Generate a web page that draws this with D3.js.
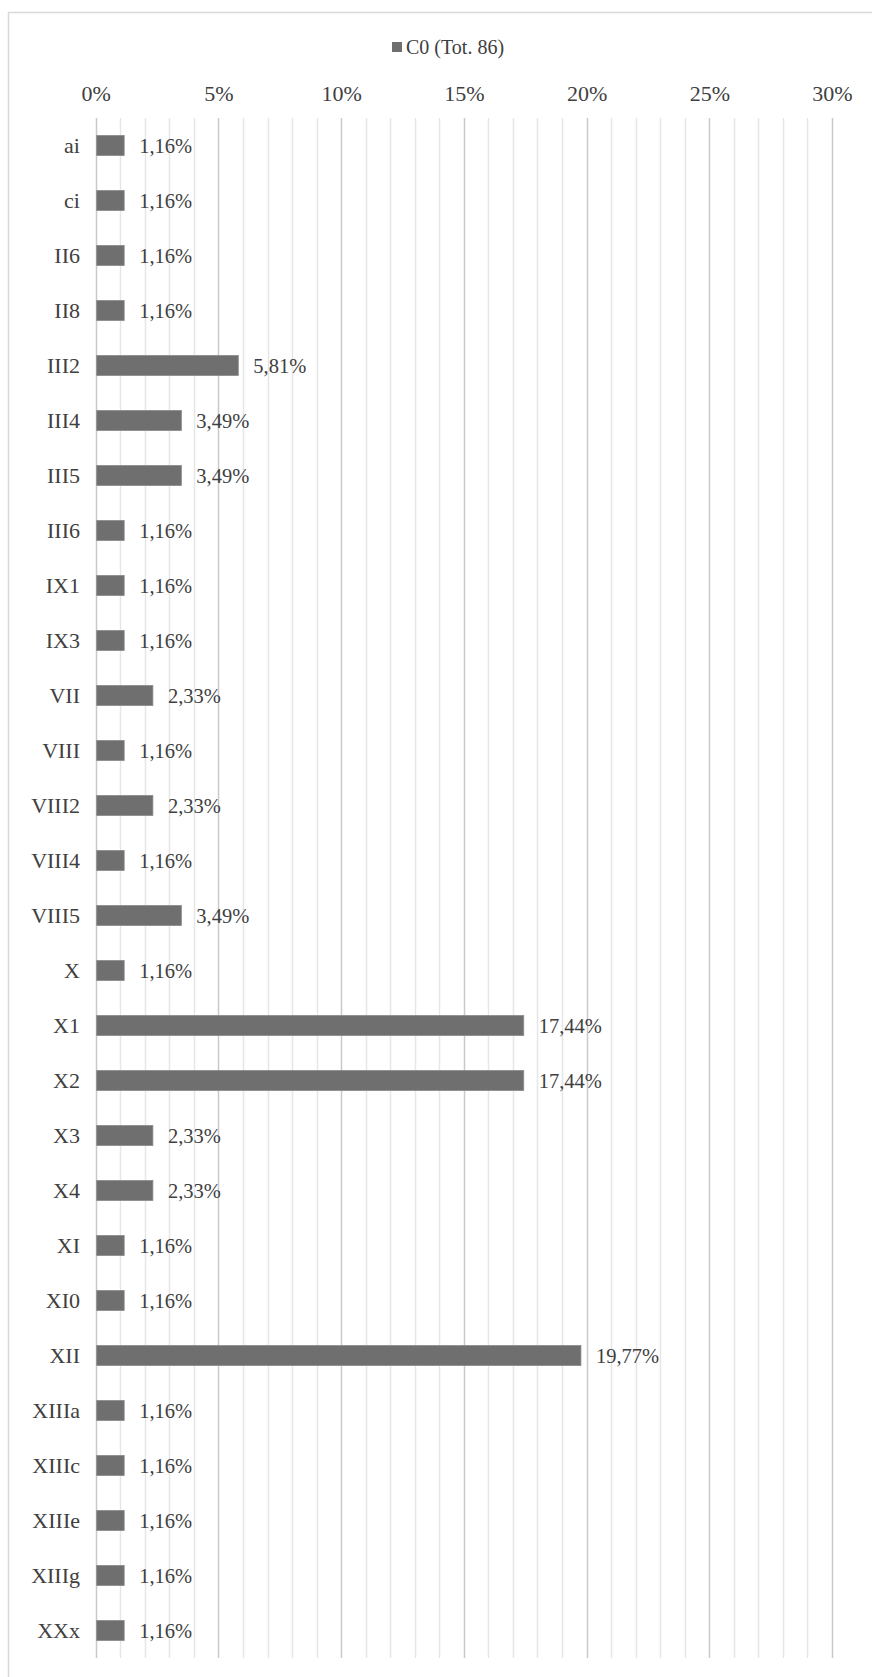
<!DOCTYPE html>
<html>
<head>
<meta charset="utf-8">
<script src="https://cdn.jsdelivr.net/npm/d3@7"></script>
<style>
body { margin:0; background:#fff; }
svg text { font-family:"Liberation Serif","Times New Roman",serif; fill:#404040; }
</style>
</head>
<body>
<div id="chart"></div>
<script>
var categories = ['ai','ci','II6','II8','III2','III4','III5','III6','IX1','IX3','VII','VIII','VIII2','VIII4','VIII5','X','X1','X2','X3','X4','XI','XI0','XII','XIIIa','XIIIc','XIIIe','XIIIg','XXx']
var values = [1.16,1.16,1.16,1.16,5.81,3.49,3.49,1.16,1.16,1.16,2.33,1.16,2.33,1.16,3.49,1.16,17.44,17.44,2.33,2.33,1.16,1.16,19.77,1.16,1.16,1.16,1.16,1.16]
var tickValues = [0,5,10,15,20,25,30]
var seriesName = 'C0 (Tot. 86)'

var width = 872, height = 1677
var svg = d3.select('#chart').append('svg').attr('width',width).attr('height',height)

// outer frame
svg.append('rect').attr('x',8.5).attr('y',12.5).attr('width',880).attr('height',1700)
	.style('fill','none').style('stroke','#d9d9d9').style('stroke-width',1.5)

var x = d3.scaleLinear().domain([0,30]).range([95.7,832])
var y = d3.scaleBand().domain(categories).range([118,1658]).paddingInner(0.636).paddingOuter(0.318)

// gridlines, every 1%, darker at 5%
var grid = svg.append('g').attr('id','gridlines')
d3.range(0,31).forEach(function(v){
	grid.append('line')
		.attr('x1',Math.round(x(v))+0.5).attr('x2',Math.round(x(v))+0.5)
		.attr('y1',118).attr('y2',1658)
		.style('stroke', v%5==0 ? '#c9c9c9' : '#e6e6e6').style('stroke-width',1.5)
})

// top axis labels
var xAxis = d3.axisTop(x).tickValues(tickValues).tickFormat(function(d){return d+'%'}).tickSize(0)
var ax = svg.append('g').attr('transform','translate(0,104)').call(xAxis)
ax.select('.domain').remove()
ax.selectAll('text').style('font-size','22px').style('fill','#404040')

// category labels
var yAxis = d3.axisLeft(y).tickSize(0).tickPadding(0)
var ay = svg.append('g').attr('transform','translate(80,0)').call(yAxis)
ay.select('.domain').remove()
ay.selectAll('text').style('font-size','22px').style('fill','#404040')

// bars
var bars = svg.append('g').attr('id','bars')
categories.forEach(function(c,i){
	bars.append('rect')
		.attr('x',x(0)+1).attr('y',y(c))
		.attr('width',x(values[i])-x(0)-1).attr('height',y.bandwidth())
		.style('fill','#6f6f6f').style('stroke','#8a8a8a').style('stroke-width',0.8)
})

// data labels
var labels = svg.append('g').attr('id','labels')
categories.forEach(function(c,i){
	labels.append('text')
		.attr('x',x(values[i])+15).attr('y',y(c)+y.bandwidth()/2)
		.attr('dy','0.35em').style('font-size','20.5px')
		.text(values[i].toFixed(2).replace('.',',')+'%')
})

// legend
var leg = svg.append('g').attr('id','legend')
leg.append('rect').attr('x',392).attr('y',42).attr('width',10).attr('height',10).style('fill','#6f6f6f')
leg.append('text').attr('x',406).attr('y',47).attr('dy','0.35em').style('font-size','20px').text(seriesName)
</script>
</body>
</html>
